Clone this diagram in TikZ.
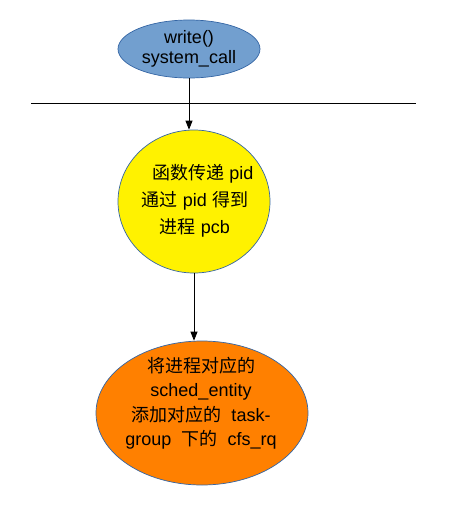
\documentclass[tikz,border=0pt]{standalone}
\usepackage{fontspec}
\setmainfont{Liberation Sans}
\newfontfamily\cjk{Noto Sans CJK SC}
\usetikzlibrary{shapes.geometric,arrows.meta}
\definecolor{blueA}{HTML}{729FCF}
\definecolor{blueB}{HTML}{3465A4}
\definecolor{orangeA}{HTML}{FF8000}
\begin{document}
\begin{tikzpicture}[x=1pt,y=-1pt,
  bubble/.style={ellipse,draw=blueB,line width=0.7pt,inner sep=0pt},
  txt/.style={align=center,font=\fontsize{18}{20}\selectfont,inner sep=0pt},
  conn/.style={line width=0.8pt,-{Triangle[length=9pt,width=7pt]}}]
\useasboundingbox (0,0) rectangle (459,512);
\node[bubble,fill=blueA,minimum width=142pt,minimum height=58pt] (top) at (189,49) {};
\node[txt] (toptext) at (189,48.5) {write()\\system\_call};
\node[bubble,fill=yellow,minimum width=152pt,minimum height=143pt] (yel) at (194,201.5) {};
\node[txt,font=\fontsize{18}{27}\selectfont] (yeltext) at (195,201) {\hspace*{16pt}{\cjk 函数传递} pid\\{\cjk 通过} pid {\cjk 得到}\\{\cjk 进程} pcb};
\node[bubble,fill=orangeA,minimum width=212pt,minimum height=144pt] (ora) at (202,413) {};
\node[txt,font=\fontsize{18}{24.5}\selectfont] (oratext) at (201,403) {{\cjk 将进程对应的}\\sched\_entity\\{\cjk 添加对应的}\ \ task-\\group\ \ {\cjk 下的}\ \ cfs\_rq};
\coordinate (L1) at (31,103);
\coordinate (L2) at (416,103);
\draw[line width=0.8pt] (L1) -- (L2);
\draw[conn] (top.south) -- (top.south |- yel.north);
\draw[conn] (yel.south) -- (yel.south |- ora.north);
\end{tikzpicture}
\end{document}
